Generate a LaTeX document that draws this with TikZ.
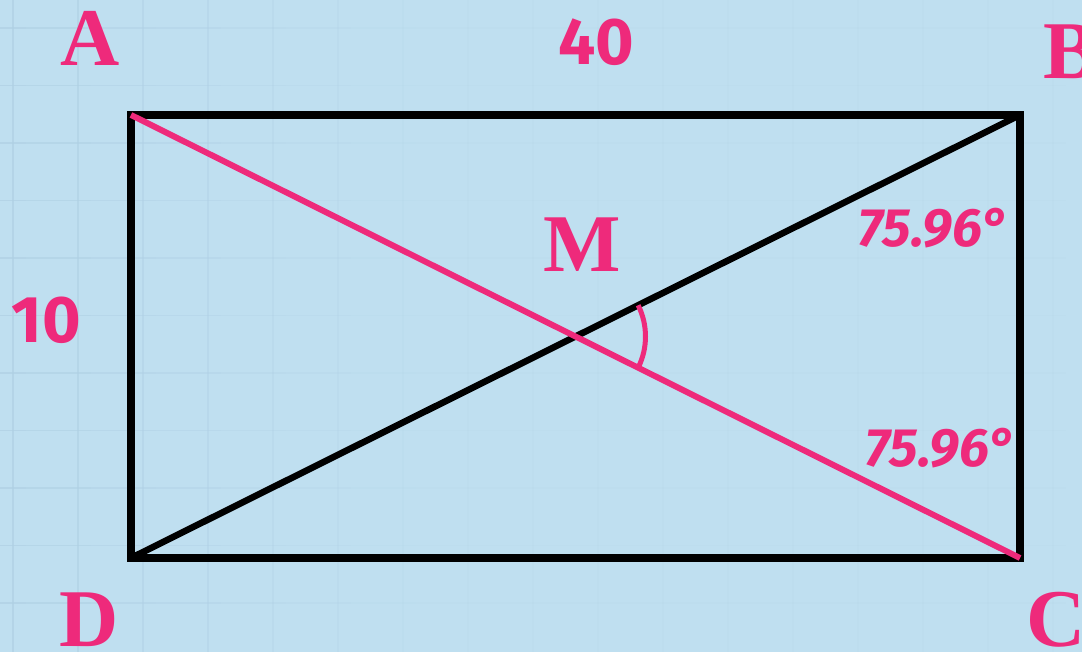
\documentclass[tikz,border=0pt]{standalone}
\usepackage{fontspec}
\newfontfamily\vertexfont{Liberation Serif}
\newfontfamily\valuefont{Fira Sans}
\definecolor{bgblue}{HTML}{BFDFF0}
\definecolor{gridblue}{HTML}{AFD0E4}
\definecolor{markpink}{HTML}{EE2A7B}
\tikzset{
  vertex/.style={inner sep=0pt, text=markpink, font=\vertexfont\bfseries\fontsize{82}{90}\selectfont},
  sidelen/.style={inner sep=0pt, text=markpink, font=\valuefont\bfseries\fontsize{66}{74}\selectfont},
  anglelen/.style={inner sep=0pt, text=markpink, font=\valuefont\bfseries\itshape\fontsize{54}{60}\selectfont}
}
\begin{document}
\begin{tikzpicture}[x=1pt, y=1pt]
	\fill[bgblue] (0,0) rectangle (1082,652);
	\useasboundingbox (0,0) rectangle (1082,652);
	\foreach \gx in {13,78,...,1082} {
		\pgfmathsetmacro\op{max(0.7-\gx/700,0.12)}
		\draw[gridblue, line width=1.5pt, opacity=\op] (\gx,0) -- (\gx,652);
		\foreach \gy in {624,566.5,...,0} {\draw[gridblue, line width=1.5pt, opacity=\op] (\gx-52,\gy) -- (\gx+13,\gy);}
	}
	\coordinate (A) at (131,537);
	\coordinate (B) at (1020,537);
	\coordinate (C) at (1020,94);
	\coordinate (D) at (131,94);
	\draw[black, line width=7.5pt] (A) -- (B) -- (C) -- (D) -- cycle;
	\draw[black, line width=6.5pt] (D) -- (B);
	\draw[markpink, line width=6pt] (A) -- (C);
	\coordinate (M) at (575.5,315.5);
	\draw[markpink, line width=5pt] ([shift={(26.5:70)}]M) arc (26.5:-26.5:70);
	\node[vertex] (labA) at (90,614) {A};
	\node[vertex] (labB) at (1071,600) {B};
	\node[vertex] (labC) at (1056,32) {C};
	\node[vertex] (labD) at (89,32) {D};
	\node[vertex] (labM) at (582,407) {M};
	\node[sidelen] (lenAB) at (596,610) {40};
	\node[sidelen] (lenAD) at (46,332) {10};
	\node[anglelen] (angB) at (934,424) {75.96°};
	\node[anglelen] (angC) at (941,204) {75.96°};
\end{tikzpicture}
\end{document}
